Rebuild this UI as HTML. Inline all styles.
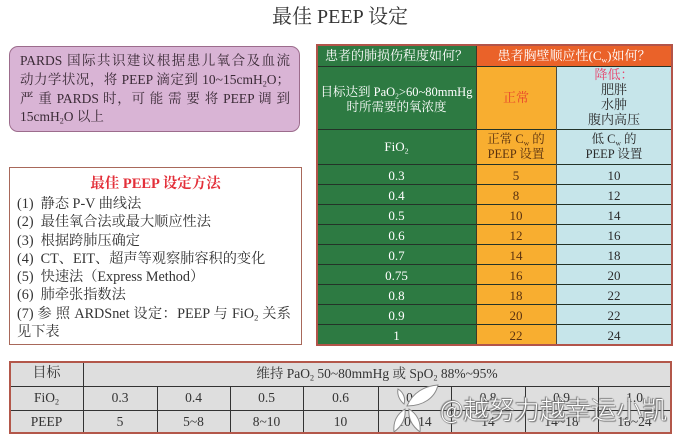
<!DOCTYPE html>
<html><head><meta charset="utf-8">
<style>
*{margin:0;padding:0;box-sizing:border-box}
html,body{width:678px;height:441px;background:#fff;overflow:hidden}
body{position:relative;font-family:"Liberation Serif","Noto Serif CJK SC",serif;color:#333}
.a{position:absolute}
.c{text-align:center;white-space:nowrap}
sub{font-size:0.6em;vertical-align:-0.3em;line-height:0}
.j{text-align:justify;text-align-last:justify;white-space:nowrap}
.hl{position:absolute;height:0;border-top:1.5px solid #233328}
.vl{position:absolute;width:0;border-left:1px solid #3a3a3a}
.w{color:#fff}
.o{color:#5a3210}
.b{color:#2a2a2a}
.bt{position:absolute;font-size:13.5px;line-height:16px;text-align:center;color:#333;white-space:nowrap}
</style></head><body>

<!-- Title -->
<div class="a c" style="left:0;top:4px;width:680px;font-size:20px;line-height:26px;color:#333;">最佳 PEEP 设定</div>

<!-- Pink box -->
<div class="a" style="left:9px;top:46px;width:291px;height:86px;background:#d9b4d5;border:1.5px solid #9c6c8c;border-radius:9px;"></div>
<div class="a j" style="left:20px;top:52px;width:270px;font-size:13.5px;line-height:18px;color:#3a2a36;">PARDS 国际共识建议根据患儿氧合及血流</div>
<div class="a j" style="left:20px;top:71px;width:270px;font-size:13.5px;line-height:18px;color:#3a2a36;">动力学状况，将 PEEP 滴定到 10~15cmH<sub>2</sub>O；</div>
<div class="a j" style="left:20px;top:90px;width:270px;font-size:13.5px;line-height:18px;color:#3a2a36;">严 重 PARDS 时，可 能 需 要 将 PEEP 调 到</div>
<div class="a" style="left:20px;top:108px;width:270px;font-size:13.5px;line-height:18px;color:#3a2a36;white-space:nowrap;">15cmH<sub>2</sub>O 以上</div>

<!-- Methods box -->
<div class="a" style="left:9px;top:167px;width:293px;height:178px;border:1.5px solid #a8685a;background:#fff;"></div>
<div class="a c" style="left:9px;top:175px;width:293px;font-size:14.5px;line-height:18px;color:#e3303a;font-weight:bold;">最佳 PEEP 设定方法</div>
<div class="a" style="left:17px;top:195px;width:280px;font-size:14.2px;line-height:18.3px;color:#333;white-space:nowrap;">
(1)&nbsp; 静态 P-V 曲线法<br>
(2)&nbsp; 最佳氧合法或最大顺应性法<br>
(3)&nbsp; 根据跨肺压确定<br>
(4)&nbsp; CT、EIT、超声等观察肺容积的变化<br>
(5)&nbsp; 快速法（Express Method）<br>
(6)&nbsp; 肺牵张指数法
</div>
<div class="a j" style="left:17px;top:304.8px;width:274px;font-size:14.2px;line-height:18.3px;color:#333;">(7) 参 照 ARDSnet 设定：PEEP 与 FiO<sub>2</sub> 关系</div>
<div class="a" style="left:17px;top:323.1px;font-size:14.2px;line-height:18.3px;color:#333;white-space:nowrap;">见下表</div>

<!-- Right table backgrounds -->
<div class="a" style="left:317px;top:45px;width:159px;height:300px;background:#2d7a42;"></div>
<div class="a" style="left:476px;top:45px;width:196px;height:21px;background:#ea6229;"></div>
<div class="a" style="left:476px;top:66px;width:80px;height:279px;background:#f8ae30;"></div>
<div class="a" style="left:556px;top:66px;width:116px;height:279px;background:#c6e5ea;"></div>

<!-- horizontal lines -->
<div class="hl" style="left:317px;top:65.5px;width:355px;"></div>
<div class="hl" style="left:317px;top:128.5px;width:355px;"></div>
<div class="hl" style="left:317px;top:163.5px;width:355px;"></div>
<div class="hl" style="left:317px;top:183.6px;width:355px;"></div>
<div class="hl" style="left:317px;top:203.7px;width:355px;"></div>
<div class="hl" style="left:317px;top:223.8px;width:355px;"></div>
<div class="hl" style="left:317px;top:243.9px;width:355px;"></div>
<div class="hl" style="left:317px;top:264px;width:355px;"></div>
<div class="hl" style="left:317px;top:284.1px;width:355px;"></div>
<div class="hl" style="left:317px;top:304.2px;width:355px;"></div>
<div class="hl" style="left:317px;top:324.3px;width:355px;"></div>
<!-- vertical lines -->
<div class="vl" style="left:476px;top:45px;height:300px;border-color:#3b3b2a;"></div>
<div class="vl" style="left:556px;top:66px;height:279px;border-color:#4a4a40;"></div>
<!-- outer border -->
<div class="a" style="left:316px;top:44px;width:357px;height:302px;border:2px solid #b2544a;"></div>

<!-- Right table text -->
<div class="a c w" style="left:317px;top:47px;width:159px;font-size:13px;line-height:17px;">患者的肺损伤程度如何？</div>
<div class="a c w" style="left:476px;top:47px;width:196px;font-size:13px;line-height:17px;">患者胸壁顺应性(C<sub>w</sub>)如何？</div>

<div class="a c w" style="left:317px;top:85px;width:159px;font-size:12.5px;line-height:15px;">目标达到 PaO<sub>2</sub>&gt;60~80mmHg<br>时所需要的氧浓度</div>
<div class="a c" style="left:476px;top:89px;width:80px;font-size:13px;line-height:17px;color:#e8452c;">正常</div>
<div class="a c b" style="left:556px;top:67px;width:116px;font-size:13px;line-height:15px;"><span style="color:#e8426a;">降低：</span><br>肥胖<br>水肿<br>腹内高压</div>

<div class="a c w" style="left:317px;top:138px;width:159px;font-size:13px;line-height:17px;">FiO<sub>2</sub></div>
<div class="a c o" style="left:476px;top:132px;width:80px;font-size:12.5px;line-height:15px;">正常 C<sub>w</sub> 的<br>PEEP 设置</div>
<div class="a c b" style="left:556px;top:132px;width:116px;font-size:12.5px;line-height:15px;">低 C<sub>w</sub> 的<br>PEEP 设置</div>

<!-- data rows -->
<div class="a c w" style="left:317px;top:165.5px;width:159px;font-size:13px;line-height:20.1px;">0.3<br>0.4<br>0.5<br>0.6<br>0.7<br>0.75<br>0.8<br>0.9<br>1</div>
<div class="a c o" style="left:476px;top:165.5px;width:80px;font-size:13px;line-height:20.1px;">5<br>8<br>10<br>12<br>14<br>16<br>18<br>20<br>22</div>
<div class="a c b" style="left:556px;top:165.5px;width:116px;font-size:13px;line-height:20.1px;">10<br>12<br>14<br>16<br>18<br>20<br>22<br>22<br>24</div>

<!-- Bottom table -->
<div class="a" style="left:10px;top:362px;width:661px;height:71px;background:#dedede;"></div>
<div class="a" style="left:10px;top:386px;width:661px;height:0;border-top:1px solid #333;"></div>
<div class="a" style="left:10px;top:410px;width:661px;height:0;border-top:1px solid #333;"></div>
<div class="a" style="left:83px;top:362px;width:0;height:71px;border-left:1px solid #333;"></div>
<div class="a" style="left:157px;top:386px;width:0;height:47px;border-left:1px solid #333;"></div>
<div class="a" style="left:230px;top:386px;width:0;height:47px;border-left:1px solid #333;"></div>
<div class="a" style="left:303px;top:386px;width:0;height:47px;border-left:1px solid #333;"></div>
<div class="a" style="left:378px;top:386px;width:0;height:47px;border-left:1px solid #333;"></div>
<div class="a" style="left:451px;top:386px;width:0;height:47px;border-left:1px solid #333;"></div>
<div class="a" style="left:525px;top:386px;width:0;height:47px;border-left:1px solid #333;"></div>
<div class="a" style="left:598px;top:386px;width:0;height:47px;border-left:1px solid #333;"></div>
<div class="a" style="left:9px;top:361px;width:663px;height:73px;border:2px solid #b3574a;"></div>

<div class="bt" style="left:10px;top:366px;width:73px;font-size:14px;">目标</div>
<div class="bt" style="left:83px;top:366px;width:588px;">维持 PaO<sub>2</sub> 50~80mmHg 或 SpO<sub>2</sub> 88%~95%</div>

<div class="bt" style="left:10px;top:390px;width:73px;">FiO<sub>2</sub></div>
<div class="bt" style="left:83px;top:390px;width:74px;">0.3</div>
<div class="bt" style="left:157px;top:390px;width:73px;">0.4</div>
<div class="bt" style="left:230px;top:390px;width:73px;">0.5</div>
<div class="bt" style="left:303px;top:390px;width:75px;">0.6</div>
<div class="bt" style="left:378px;top:390px;width:73px;">0.7</div>
<div class="bt" style="left:451px;top:390px;width:74px;">0.8</div>
<div class="bt" style="left:525px;top:390px;width:73px;">0.9</div>
<div class="bt" style="left:598px;top:390px;width:73px;">1.0</div>

<div class="bt" style="left:10px;top:414px;width:73px;">PEEP</div>
<div class="bt" style="left:83px;top:414px;width:74px;">5</div>
<div class="bt" style="left:157px;top:414px;width:73px;">5~8</div>
<div class="bt" style="left:230px;top:414px;width:73px;">8~10</div>
<div class="bt" style="left:303px;top:414px;width:75px;">10</div>
<div class="bt" style="left:378px;top:414px;width:73px;">10~14</div>
<div class="bt" style="left:451px;top:414px;width:74px;">14</div>
<div class="bt" style="left:525px;top:414px;width:73px;">14~18</div>
<div class="bt" style="left:598px;top:414px;width:73px;">18~24</div>

<!-- Watermark logo -->
<svg class="a" style="left:385px;top:380px;" width="60" height="58" viewBox="0 0 60 58">
  <g fill="#fff" stroke="#8a8a8a" stroke-width="1">
    <path d="M22 26 C28 12 40 6 53 5 C50 18 38 26 22 26 Z"/>
    <path d="M19 24 C14 20 12 14 13 9 C18 12 21 18 19 24 Z"/>
    <path d="M20 29 C12 34 8 42 9 52 C17 46 21 38 20 29 Z"/>
    <path d="M24 29 C32 34 36 42 35 52 C27 46 23 38 24 29 Z"/>
  </g>
</svg>
<!-- Watermark text -->
<div class="a" style="left:440px;top:394px;font-family:'Noto Sans CJK SC','Liberation Sans',sans-serif;font-size:25.5px;line-height:30px;font-weight:300;color:#fff;white-space:nowrap;text-shadow:0 0 1px #666,0 0 1px #666,1px 1px 1px #777,-1px -1px 1px #777;">@越努力越幸运小凯</div>

</body></html>
